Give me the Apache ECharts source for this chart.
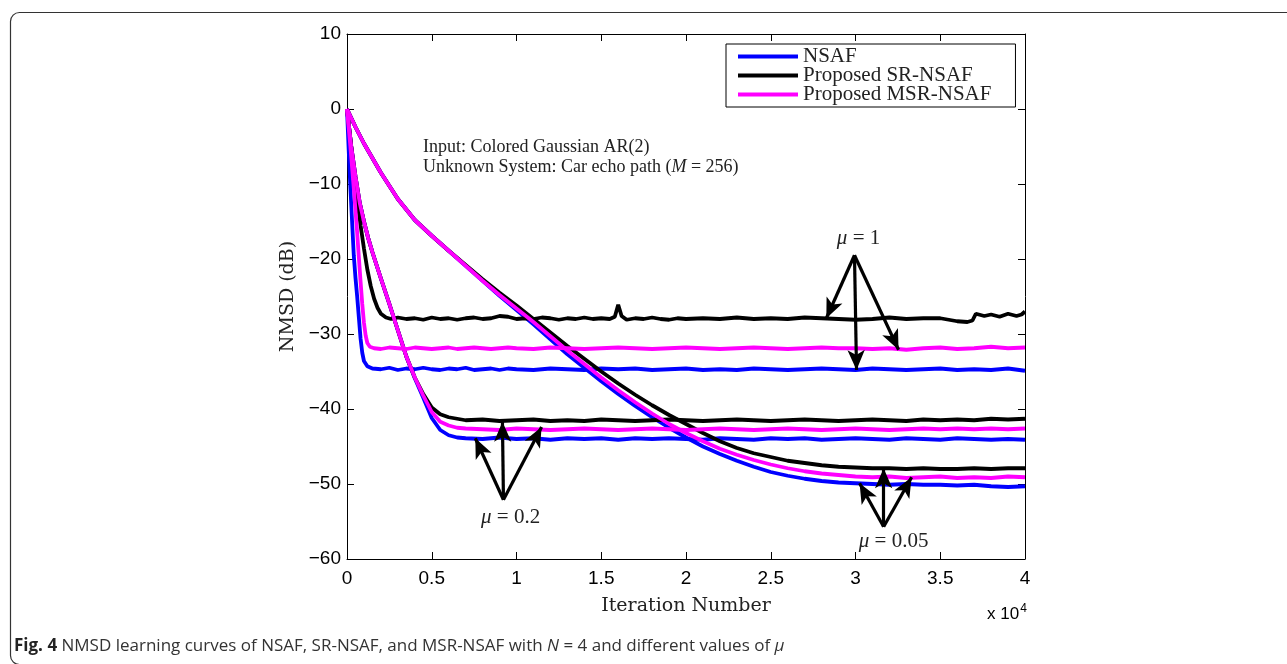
<!DOCTYPE html>
<html><head><meta charset="utf-8">
<script src="https://cdn.jsdelivr.net/npm/echarts@6/dist/echarts.min.js"></script>
<style>html,body{margin:0;padding:0;background:#fff}#c{width:1287px;height:664px}</style>
</head><body><div id="c"></div>
<script>
// ---- data (iteration, NMSD dB) ----
const xTicks = [0, 0.5, 1, 1.5, 2, 2.5, 3, 3.5, 4];
const yTicks = [10, 0, -10, -20, -30, -40, -50, -60];
const seriesNames = ['NSAF', 'Proposed SR-NSAF', 'Proposed MSR-NSAF'];

const nsafMu1 = [[0,0],[100,-5.5],[200,-10.5],[300,-15],[400,-19.5],[500,-22.5],[600,-25],[700,-27.8],[800,-30.6],[900,-32.5],[1000,-33.6],[1200,-34.3],[1500,-34.6],[2000,-34.7],[2500,-34.5],[3000,-34.8],[3500,-34.6],[4000,-34.7],[4500,-34.5],[5000,-34.7],[5500,-34.8],[6000,-34.6],[6500,-34.7],[7000,-34.5],[7500,-34.8],[8000,-34.7],[8500,-34.6],[9000,-34.8],[9500,-34.6],[10000,-34.7],[11000,-34.8],[12000,-34.6],[13000,-34.7],[14000,-34.8],[15000,-34.6],[16000,-34.7],[17000,-34.6],[18000,-34.8],[19000,-34.7],[20000,-34.6],[21000,-34.8],[22000,-34.7],[23000,-34.8],[24000,-34.6],[25000,-34.7],[26000,-34.8],[27000,-34.7],[28000,-34.6],[29000,-34.7],[30000,-34.8],[31000,-34.6],[32000,-34.7],[33000,-34.8],[34000,-34.7],[35000,-34.6],[36000,-34.8],[37000,-34.7],[38000,-34.8],[39000,-34.6],[40000,-34.9]];
const srMu1 = [[0,0],[200,-4],[400,-8],[600,-12],[800,-15.5],[1000,-18.6],[1200,-21.4],[1400,-23.6],[1600,-25.3],[1800,-26.5],[2000,-27.3],[2300,-27.8],[2600,-28.0],[3000,-27.8],[3500,-28.0],[4000,-27.9],[4500,-28.1],[5000,-27.8],[5500,-28.0],[6000,-27.9],[6500,-28.1],[7000,-27.9],[7500,-27.8],[8000,-28.0],[8500,-27.9],[9000,-27.6],[9500,-27.7],[10000,-28.0],[10500,-27.9],[11000,-28.0],[11500,-27.8],[12000,-27.9],[12500,-28.1],[13000,-27.9],[13500,-28.0],[14000,-27.8],[14500,-28.0],[15000,-27.9],[15500,-28.0],[15800,-27.7],[16000,-26.1],[16200,-27.6],[16500,-28.1],[17000,-27.9],[17500,-28.0],[18000,-27.8],[18500,-28.0],[19000,-28.1],[19500,-27.9],[20000,-28.0],[21000,-27.9],[22000,-28.0],[23000,-27.8],[24000,-28.0],[25000,-27.9],[26000,-28.0],[27000,-27.8],[28000,-27.9],[29000,-28.0],[30000,-28.1],[31000,-28.0],[32000,-27.8],[33000,-28.0],[34000,-27.9],[35000,-27.9],[35500,-28.1],[36000,-28.3],[36600,-28.4],[36900,-28.2],[37100,-27.3],[37600,-27.6],[38000,-27.4],[38500,-27.7],[39000,-27.3],[39500,-27.6],[39800,-27.4],[40000,-27.0]];
const msrMu1 = [[0,0],[200,-5],[400,-10.5],[600,-16.5],[700,-19.8],[800,-23],[900,-26],[1000,-28.5],[1100,-30.2],[1200,-31.2],[1350,-31.7],[1600,-31.9],[2000,-32.0],[2500,-31.8],[3000,-31.9],[3500,-32.0],[4000,-31.8],[4500,-31.9],[5000,-32.0],[5500,-31.9],[6000,-31.8],[6500,-32.0],[7000,-31.9],[7500,-31.8],[8000,-31.9],[8500,-32.0],[9000,-31.9],[9500,-31.8],[10000,-31.9],[11000,-32.0],[12000,-31.8],[13000,-31.9],[14000,-32.0],[15000,-31.9],[16000,-31.8],[17000,-31.9],[18000,-32.0],[19000,-31.9],[20000,-31.8],[21000,-31.9],[22000,-32.0],[23000,-31.9],[24000,-31.8],[25000,-31.9],[26000,-32.0],[27000,-31.9],[28000,-31.8],[29000,-31.9],[30000,-31.9],[31000,-32.0],[32000,-31.9],[33000,-32.1],[34000,-31.9],[35000,-31.8],[36000,-32.0],[37000,-31.9],[38000,-31.7],[39000,-31.9],[40000,-31.8]];

const nsafMu02 = [[0,0],[250,-5],[500,-9],[750,-12.5],[1000,-15],[1250,-17.2],[1500,-19.1],[2000,-22.6],[2500,-26.0],[3000,-29.5],[3500,-33.0],[4000,-35.9],[4500,-38.5],[5000,-41.2],[5500,-42.8],[6000,-43.5],[6500,-43.8],[7000,-43.9],[8000,-44.0],[9000,-43.8],[10000,-44.0],[11000,-43.9],[12000,-44.1],[13000,-43.9],[14000,-44.0],[15000,-43.9],[16000,-44.1],[17000,-43.9],[18000,-44.0],[19000,-43.9],[20000,-44.0],[21000,-44.1],[22000,-43.9],[23000,-44.0],[24000,-44.1],[25000,-43.9],[26000,-44.0],[27000,-43.9],[28000,-44.1],[29000,-44.0],[30000,-43.9],[31000,-44.0],[32000,-44.1],[33000,-43.9],[34000,-44.0],[35000,-44.1],[36000,-43.9],[37000,-44.0],[38000,-44.1],[39000,-44.0],[40000,-44.1]];
const srMu02 = [[0,0],[250,-5],[500,-9],[750,-12.5],[1000,-15],[1250,-17.2],[1500,-19.1],[2000,-22.6],[2500,-26.0],[3000,-29.5],[3500,-33.0],[4000,-35.8],[4500,-38.0],[5000,-39.8],[5500,-40.7],[6000,-41.1],[6500,-41.3],[7000,-41.5],[8000,-41.4],[9000,-41.6],[10000,-41.5],[11000,-41.4],[12000,-41.6],[13000,-41.5],[14000,-41.6],[15000,-41.4],[16000,-41.5],[17000,-41.6],[18000,-41.5],[19000,-41.4],[20000,-41.5],[21000,-41.6],[22000,-41.5],[23000,-41.4],[24000,-41.5],[25000,-41.6],[26000,-41.5],[27000,-41.4],[28000,-41.5],[29000,-41.6],[30000,-41.5],[31000,-41.4],[32000,-41.5],[33000,-41.6],[34000,-41.4],[35000,-41.5],[36000,-41.4],[37000,-41.5],[38000,-41.3],[39000,-41.4],[40000,-41.3]];
const msrMu02 = [[0,0],[250,-5],[500,-9],[750,-12.5],[1000,-15],[1250,-17.2],[1500,-19.1],[2000,-22.6],[2500,-26.0],[3000,-29.5],[3500,-33.0],[4000,-35.8],[4500,-38.2],[5000,-40.4],[5500,-41.7],[6000,-42.2],[6500,-42.5],[7000,-42.6],[8000,-42.7],[9000,-42.8],[10000,-42.6],[11000,-42.7],[12000,-42.8],[13000,-42.7],[14000,-42.6],[15000,-42.7],[16000,-42.8],[17000,-42.7],[18000,-42.6],[19000,-42.7],[20000,-42.8],[21000,-42.7],[22000,-42.6],[23000,-42.7],[24000,-42.8],[25000,-42.7],[26000,-42.6],[27000,-42.7],[28000,-42.8],[29000,-42.7],[30000,-42.6],[31000,-42.7],[32000,-42.8],[33000,-42.7],[34000,-42.6],[35000,-42.7],[36000,-42.6],[37000,-42.7],[38000,-42.6],[39000,-42.7],[40000,-42.6]];

const nsafMu005 = [[0,0],[500,-2.4],[1000,-4.6],[2000,-8.5],[3000,-12.0],[4000,-14.8],[5000,-16.9],[6000,-18.9],[7000,-20.9],[8000,-22.9],[9000,-24.9],[10000,-26.8],[11000,-28.7],[12000,-30.7],[13000,-32.7],[14000,-34.5],[15000,-36.3],[16000,-38.0],[17000,-39.6],[18000,-41.1],[19000,-42.5],[20000,-43.8],[21000,-45.0],[22000,-46.0],[23000,-46.9],[24000,-47.7],[25000,-48.4],[26000,-48.9],[27000,-49.3],[28000,-49.6],[29000,-49.8],[30000,-49.9],[31000,-50.0],[32000,-50.1],[33000,-50.0],[34000,-50.1],[35000,-50.1],[36000,-50.2],[37000,-50.1],[38000,-50.3],[39000,-50.4],[40000,-50.3]];
const srMu005 = [[0,0],[500,-2.4],[1000,-4.6],[2000,-8.5],[3000,-12.0],[4000,-14.8],[5000,-16.9],[6000,-18.9],[7000,-20.8],[8000,-22.7],[9000,-24.5],[10000,-26.2],[11000,-28.0],[12000,-29.8],[13000,-31.6],[14000,-33.3],[15000,-35.0],[16000,-36.6],[17000,-38.1],[18000,-39.5],[19000,-40.8],[20000,-42.0],[21000,-43.2],[22000,-44.3],[23000,-45.2],[24000,-45.9],[25000,-46.4],[26000,-46.9],[27000,-47.2],[28000,-47.5],[29000,-47.7],[30000,-47.8],[31000,-47.9],[32000,-47.9],[33000,-48.0],[34000,-47.9],[35000,-48.0],[36000,-48.0],[37000,-47.9],[38000,-48.0],[39000,-47.9],[40000,-47.9]];
const msrMu005 = [[0,0],[500,-2.4],[1000,-4.6],[2000,-8.5],[3000,-12.0],[4000,-14.8],[5000,-16.9],[6000,-18.9],[7000,-20.9],[8000,-22.9],[9000,-24.8],[10000,-26.6],[11000,-28.4],[12000,-30.3],[13000,-32.2],[14000,-34.0],[15000,-35.8],[16000,-37.5],[17000,-39.1],[18000,-40.6],[19000,-42.0],[20000,-43.2],[21000,-44.3],[22000,-45.3],[23000,-46.1],[24000,-46.8],[25000,-47.4],[26000,-47.9],[27000,-48.3],[28000,-48.6],[29000,-48.8],[30000,-49.0],[31000,-49.1],[32000,-49.0],[33000,-49.2],[34000,-49.1],[35000,-49.0],[36000,-49.2],[37000,-49.1],[38000,-49.2],[39000,-49.0],[40000,-49.1]];

// annotation arrows: [from, to] in (iteration, dB)
const arrowsMu1   = [[[29940,-19.5],[28280,-27.9]], [[29940,-19.5],[30060,-34.8]], [[29940,-19.5],[32540,-32.1]]];
const arrowsMu02  = [[[9230,-52.1],[7570,-43.9]], [[9230,-52.1],[9170,-41.7]], [[9230,-52.1],[11480,-42.4]]];
const arrowsMu005 = [[[31660,-55.7],[30240,-49.9]], [[31660,-55.7],[31660,-47.9]], [[31660,-55.7],[33310,-49.1]]];
const muLabels = [{text:'1', at:[30180,-17.2]}, {text:'0.2', at:[9650,-54.4]}, {text:'0.05', at:[32250,-57.6]}];

const colors = {'NSAF':'#0000ff', 'Proposed SR-NSAF':'#000000', 'Proposed MSR-NSAF':'#ff00ff'};
const curves = [
  ['NSAF', nsafMu1], ['NSAF', nsafMu02], ['NSAF', nsafMu005],
  ['Proposed SR-NSAF', srMu1], ['Proposed SR-NSAF', srMu02], ['Proposed SR-NSAF', srMu005],
  ['Proposed MSR-NSAF', msrMu1], ['Proposed MSR-NSAF', msrMu02], ['Proposed MSR-NSAF', msrMu005]
];

const SANS = '"Liberation Sans", Arial, sans-serif';
const SERIF = '"Liberation Serif", serif';
const DSERIF = '"DejaVu Serif", serif';

const series = curves.map(([name, data]) => ({
  name, type:'line', data, showSymbol:false, symbol:'none', smooth:false,
  lineStyle:{color:colors[name], width:3.8}, itemStyle:{color:colors[name]},
  silent:true, animation:false, z:2
}));

const allArrows = arrowsMu1.concat(arrowsMu02, arrowsMu005);
series.push({
  name:'annotations', type:'line', data:[], silent:true, animation:false, z:5,
  markLine:{
    silent:true, animation:false, symbol:['none','arrow'], symbolSize:[13,20],
    lineStyle:{color:'#000', width:3.2, type:'solid'}, itemStyle:{color:'#000'},
    label:{show:false}, emphasis:{disabled:true},
    data: allArrows.map(([a,b]) => [{coord:a},{coord:b}])
  },
  markPoint:{
    silent:true, animation:false, symbol:'rect', symbolSize:1, itemStyle:{color:'rgba(0,0,0,0)'},
    label:{show:true, position:'inside', color:'#222', fontFamily:SERIF, fontSize:21,
      formatter:p => '{i|μ} = ' + p.name,
      rich:{i:{fontStyle:'italic', fontFamily:SERIF, fontSize:21, color:'#222'}}},
    data: muLabels.map(m => ({name:m.text, coord:m.at}))
  }
});

const chart = echarts.init(document.getElementById('c'), null, {renderer:'canvas'});
const axisCommon = {
  type:'value', axisLine:{show:true, onZero:false, lineStyle:{color:'#000', width:1}},
  axisTick:{show:true, inside:true, length:7, lineStyle:{color:'#000'}},
  splitLine:{show:false}
};
chart.setOption({
  animation:false,
  grid:{left:347, top:34, width:678, height:525, containLabel:false},
  legend:{
    data:seriesNames, orient:'vertical', left:726, top:44,
    icon:'rect', itemWidth:60, itemHeight:4, itemGap:-2,
    backgroundColor:'#fff', borderColor:'#000', borderWidth:1, padding:[2,24,2,12],
    textStyle:{fontFamily:SERIF, fontSize:21, color:'#222', lineHeight:19.5},
    selectedMode:false
  },
  xAxis:[
    Object.assign({}, axisCommon, {position:'bottom', min:0, max:40000, interval:5000,
      name:'Iteration Number', nameLocation:'middle', nameGap:38,
      nameTextStyle:{fontFamily:DSERIF, fontSize:19, color:'#222'},
      axisLabel:{show:true, margin:10, color:'#000', fontFamily:SANS, fontSize:19,
        formatter:v => String(xTicks[Math.round(v/5000)])}}),
    Object.assign({}, axisCommon, {position:'top', min:0, max:40000, interval:5000, axisLabel:{show:false}})
  ],
  yAxis:[
    Object.assign({}, axisCommon, {position:'left', min:-60, max:10, interval:10,
      name:'NMSD (dB)', nameLocation:'middle', nameGap:44, nameRotate:90,
      nameTextStyle:{fontFamily:DSERIF, fontSize:19, color:'#222'},
      axisLabel:{show:true, margin:6, color:'#000', fontFamily:SANS, fontSize:19,
        formatter:v => String(v).replace('-', '\u2212')}}),
    Object.assign({}, axisCommon, {position:'right', min:-60, max:10, interval:10, axisLabel:{show:false}})
  ],
  series,
  graphic:[
    {type:'rect', left:8, top:10, shape:{width:1300, height:652, r:9}, style:{fill:'none', stroke:'#333', lineWidth:1.2}, silent:true, z:-1},
    {type:'text', left:423, top:138, silent:true, style:{text:'Input: Colored Gaussian AR(2)', font:'18px "Liberation Serif", serif', fill:'#222'}},
    {type:'text', left:423, top:158, silent:true, style:{
      text:'Unknown System: Car echo path ({i|M} = 256)', font:'18px "Liberation Serif", serif', fill:'#222',
      rich:{i:{fontStyle:'italic', fontFamily:'"Liberation Serif", serif', fontSize:18, fill:'#222'}}}},
    {type:'text', left:987, top:603, silent:true, style:{
      text:'x 10{s|4}', font:'17px "Liberation Sans", Arial, sans-serif', fill:'#000',
      rich:{s:{fontSize:12, fontFamily:'"Liberation Sans", Arial, sans-serif', verticalAlign:'top', padding:[0,0,10,1]}}}},
    {type:'text', left:14, top:638, silent:true, style:{
      text:'{b|Fig. 4} NMSD learning curves of NSAF, SR-NSAF, and MSR-NSAF with {i|N} = 4 and different values of {i|μ}',
      font:'17px "Open Sans", sans-serif', fill:'#333',
      rich:{b:{fontWeight:'bold', fontFamily:'"Open Sans", sans-serif', fontSize:17, fill:'#222'},
            i:{fontStyle:'italic', fontFamily:'"Open Sans", sans-serif', fontSize:17, fill:'#333'}}}}
  ]
});
</script></body></html>
